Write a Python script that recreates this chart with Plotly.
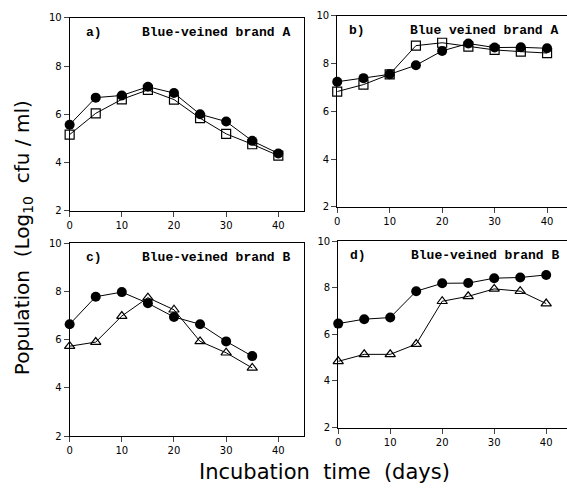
import plotly.graph_objects as go

days = [0, 5, 10, 15, 20, 25, 30, 35, 40]
days_c = [0, 5, 10, 15, 20, 25, 30, 35]

# a) Blue-veined brand A
a_filled = [5.57, 6.69, 6.78, 7.14, 6.88, 6.0, 5.70, 4.90, 4.38]
a_open = [5.16, 6.04, 6.62, 7.01, 6.61, 5.84, 5.19, 4.76, 4.29]
# b) Blue veined brand A
b_filled = [7.24, 7.39, 7.55, 7.93, 8.53, 8.84, 8.67, 8.68, 8.64]
b_open = [6.83, 7.12, 7.55, 8.75, 8.87, 8.71, 8.57, 8.50, 8.44]
# c) Blue-veined brand B
c_filled = [6.64, 7.78, 7.97, 7.51, 6.94, 6.64, 5.93, 5.32]
c_open = [5.73, 5.90, 6.98, 7.74, 7.24, 5.93, 5.46, 4.83]
# d) Blue-veined brand B
d_filled = [6.46, 6.65, 6.72, 7.85, 8.19, 8.20, 8.41, 8.44, 8.55]
d_open = [4.84, 5.14, 5.14, 5.58, 7.42, 7.63, 7.95, 7.85, 7.32]

panels = [
    ("a)", "Blue-veined brand A", days, a_filled, a_open, "square-open"),
    ("b)", "Blue veined brand A", days, b_filled, b_open, "square-open"),
    ("c)", "Blue-veined brand B", days_c, c_filled, c_open, "triangle-up-open"),
    ("d)", "Blue-veined brand B", days, d_filled, d_open, "triangle-up-open"),
]

W, H = 567, 494
# pixel boxes: (left, right, top, bottom)
boxes = [(67, 303, 12, 210), (336, 567, 10, 206), (67, 303, 243, 441), (337, 567, 241, 432)]
xmax = [45, 43.8, 45, 44]

fig = go.Figure()
tick_font = dict(family="DejaVu Sans", size=10, color="black")
annotations = []
for i, (lab, title, x, yf, yo, sym) in enumerate(panels):
    n = "" if i == 0 else str(i + 1)
    fig.add_trace(go.Scatter(x=x, y=yo, mode="lines+markers", xaxis="x" + n, yaxis="y" + n,
                             line=dict(color="black", width=1), cliponaxis=False,
                             marker=dict(symbol=sym, size=9, color="black", line=dict(width=1.2, color="black"))))
    fig.add_trace(go.Scatter(x=x, y=yf, mode="lines+markers", xaxis="x" + n, yaxis="y" + n,
                             line=dict(color="black", width=1), cliponaxis=False,
                             marker=dict(symbol="circle", size=10, color="black")))
    l, r, t, b = boxes[i]
    right_col = i in (1, 3)
    fig.update_layout(**{
        "xaxis" + n: dict(domain=[l / W, r / W], range=[0, xmax[i]], anchor="y" + n,
                          tickvals=[0, 10, 20, 30, 40], ticks="outside", ticklen=5,
                          showline=True, linecolor="black", linewidth=1, mirror=True,
                          showgrid=False, zeroline=False, tickfont=tick_font),
        "yaxis" + n: dict(domain=[1 - b / H, 1 - t / H], range=[2, 10], anchor="x" + n,
                          tickvals=[2, 4, 6, 8, 10], ticks="outside", ticklen=5,
                          showline=True, linecolor="black", linewidth=1, mirror=not right_col,
                          showgrid=False, zeroline=False, tickfont=tick_font),
    })
    annotations.append(dict(text=lab, x=(l + (14 if not right_col else 10)) / W, y=1 - (t + 15) / H,
                            xref="paper", yref="paper", xanchor="left", yanchor="middle", showarrow=False,
                            font=dict(family="Liberation Mono", size=13, color="black", weight="bold")))
    annotations.append(dict(text=title, x=(l + 71) / W, y=1 - (t + 15) / H,
                            xref="paper", yref="paper", xanchor="left", yanchor="middle", showarrow=False,
                            font=dict(family="Liberation Mono", size=13, color="black", weight="bold")))

annotations.append(dict(text="Population  (Log<sub>10</sub>  cfu / ml)", x=20 / W, y=1 - 237 / H,
                        xref="paper", yref="paper", xanchor="center", yanchor="middle",
                        textangle=-90, showarrow=False,
                        font=dict(family="DejaVu Sans", size=20, color="black")))
annotations.append(dict(text="Incubation  time  (days)", x=323 / W, y=1 - 478 / H,
                        xref="paper", yref="paper", xanchor="center", yanchor="middle", showarrow=False,
                        font=dict(family="DejaVu Sans", size=21, color="black")))

fig.update_layout(width=W, height=H, margin=dict(l=0, r=0, t=0, b=0),
                  plot_bgcolor="white", paper_bgcolor="white", showlegend=False,
                  annotations=annotations)
fig.write_html("out.html", config={"displayModeBar": False},
               post_script="document.body.style.margin='0';document.body.style.overflow='hidden';")
